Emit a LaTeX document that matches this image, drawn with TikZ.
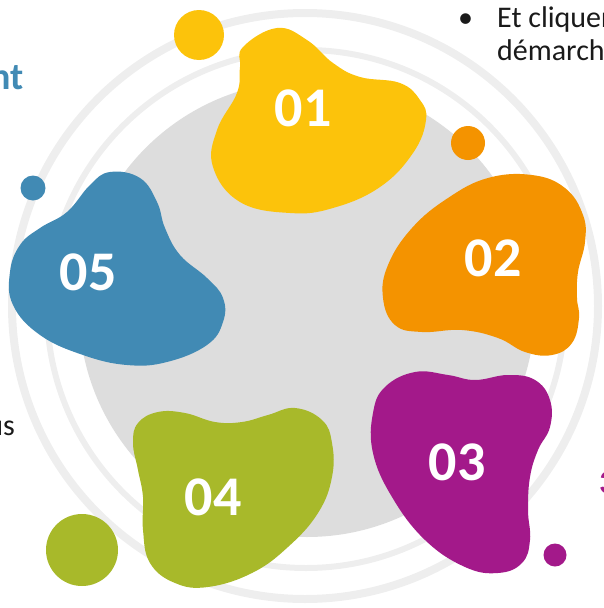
\documentclass[tikz,border=0pt]{standalone}
\usepackage{fontspec}
\setmainfont{Carlito}
\definecolor{cyel}{HTML}{FCC30B}
\definecolor{cora}{HTML}{F49300}
\definecolor{cpur}{HTML}{A3198A}
\definecolor{cgre}{HTML}{A8B92A}
\definecolor{cblu}{HTML}{418AB4}
\definecolor{cdisk}{HTML}{DDDDDD}
\definecolor{cring}{HTML}{EEEEEE}
\definecolor{ctext}{HTML}{1A1A1A}
\tikzset{
  blob/.style={smooth cycle, tension=0.7},
  num/.style={text=white, inner sep=0pt, font=\fontsize{56}{60}\selectfont\bfseries},
  body/.style={text=ctext, inner sep=0pt, font=\fontsize{30}{34}\selectfont},
}
\begin{document}
\begin{tikzpicture}[x=1pt,y=-1pt]
\useasboundingbox (0,0) rectangle (604,608);
\clip (0,0) rectangle (604,608);
% rings and disk
\draw[cring, line width=8pt] (305,306) circle (293);
\draw[cring, line width=6pt] (306,309) circle (259);
\fill[cdisk] (307,309) circle (228);
% blobs
\fill[cyel] plot[blob] coordinates {(243,47) (277,28) (307,40) (333,63) (360,77) (400,83) (420,100) (426,120) (413,153) (380,187) (333,208) (290,213) (240,202) (213,167) (217,130) (237,93) (240,67)};
\fill[cora] plot[blob] coordinates {(532,175) (565,188) (583,215) (585,242) (578,272) (577,298) (579,318) (572,343) (552,355) (525,352) (498,338) (462,330) (422,332) (395,325) (383,298) (388,265) (412,228) (448,198) (488,178)};
\fill[cpur] plot[blob] coordinates {(385,387) (415,372) (448,375) (475,380) (508,375) (535,380) (550,400) (550,427) (538,450) (530,477) (528,510) (530,540) (522,563) (498,573) (465,567) (425,540) (392,497) (373,453) (373,413)};
\fill[cgre] plot[blob] coordinates {(138,423) (158,412) (185,413) (215,422) (242,422) (268,415) (295,408) (322,420) (332,443) (332,477) (318,513) (288,547) (252,573) (208,587) (175,583) (150,563) (143,530) (143,497) (138,470) (133,443)};
\fill[cblu] plot[blob] coordinates {(90,185) (110,172) (140,178) (157,202) (165,228) (180,255) (207,278) (223,298) (223,322) (207,345) (167,362) (127,365) (83,355) (40,335) (13,305) (10,272) (20,245) (40,228) (67,212)};
% small circles
\fill[cyel] (199,35) circle (25);
\fill[cora] (468,143) circle (17);
\fill[cblu] (33,188) circle (12.5);
\fill[cgre] (82,550) circle (36);
\fill[cpur] (555,555) circle (11.5);
% numbers
\node[num] (n1) at (303,108) {01};
\node[num] (n2) at (493,258) {02};
\node[num] (n3) at (457,462) {03};
\node[num] (n4) at (213,497) {04};
\node[num] (n5) at (88,272) {05};
% edge texts
\node[body, anchor=base west] (b1) at (458,27) {•};
\node[body, anchor=base west] (t1) at (497,27) {Et cliquer};
\node[body, anchor=base west] (t2) at (497,60) {démarche};
\node[inner sep=0pt, anchor=base east, text=cblu, font=\fontsize{38}{42}\selectfont\bfseries] (t3) at (24,89) {ment};
\node[body, anchor=base east] (t4) at (15,435) {vous};
\node[inner sep=0pt, anchor=base west, text=cpur, font=\fontsize{33}{38}\selectfont\bfseries] (t5) at (599,493) {3};
\end{tikzpicture}
\end{document}
